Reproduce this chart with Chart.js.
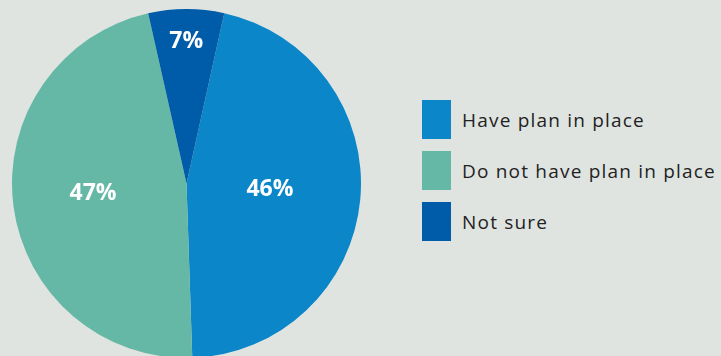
<!DOCTYPE html>
<html lang="en">
  <head>
    <meta charset="UTF-8" />
    <title>Plan in place</title>
    <script src="https://cdn.jsdelivr.net/npm/chart.js@4"></script>
    <style>
      body {
        margin: 0;
        width: 721px;
        height: 356px;
        overflow: hidden;
        background: #e0e4e1;
        font-family: "Open Sans", sans-serif;
        position: relative;
      }
      .pie-container {
        position: absolute;
        left: 12px;
        top: 9px;
        width: 349px;
        height: 349px;
      }
      .legend {
        position: absolute;
        left: 422px;
        top: 100px;
      }
      .legend-item {
        display: flex;
        align-items: center;
        height: 39px;
        margin-bottom: 12px;
      }
      .legend-box {
        width: 29px;
        height: 39px;
        margin-right: 11px;
      }
      .legend-text {
        font-size: 19px;
        letter-spacing: 1.2px;
        color: #222;
      }
    </style>
  </head>
  <body>
    <div class="pie-container"><canvas id="pie"></canvas></div>
    <div id="legend" class="legend"></div>

    <script>
      const categories = ["Have plan in place", "Do not have plan in place", "Not sure"];
      const shares = [46, 47, 7];
      const colors = ["#0b86c9", "#66b8a6", "#005ca9"];

      // how far out along the radius each percentage label sits
      const labelRadius = [0.48, 0.54, 0.8];

      // white percentage labels inside the slices
      const sliceLabels = {
        id: "sliceLabels",
        afterDatasetsDraw(chart) {
          const ctx = chart.ctx;
          const meta = chart.getDatasetMeta(0);
          ctx.save();
          ctx.fillStyle = "#ffffff";
          ctx.font = "bold 23px 'Open Sans', sans-serif";
          ctx.textAlign = "center";
          ctx.textBaseline = "middle";
          meta.data.forEach((arc, i) => {
            const mid = (arc.startAngle + arc.endAngle) / 2;
            const r = arc.outerRadius * labelRadius[i];
            ctx.fillText(shares[i] + "%", arc.x + Math.cos(mid) * r, arc.y + Math.sin(mid) * r - 2);
          });
          ctx.restore();
        },
      };

      new Chart(document.getElementById("pie"), {
        type: "pie",
        data: {
          labels: categories,
          datasets: [
            {
              data: shares,
              backgroundColor: colors,
              borderWidth: 0,
            },
          ],
        },
        options: {
          responsive: true,
          maintainAspectRatio: false,
          animation: false,
          rotation: 12.5,
          plugins: {
            legend: { display: false },
            tooltip: { enabled: false },
          },
        },
        plugins: [sliceLabels],
      });

      // legend on the right
      const legend = document.getElementById("legend");
      categories.forEach((name, i) => {
        const item = document.createElement("div");
        item.className = "legend-item";
        const box = document.createElement("div");
        box.className = "legend-box";
        box.style.background = colors[i];
        const text = document.createElement("span");
        text.className = "legend-text";
        text.textContent = name;
        item.appendChild(box);
        item.appendChild(text);
        legend.appendChild(item);
      });
    </script>
  </body>
</html>
